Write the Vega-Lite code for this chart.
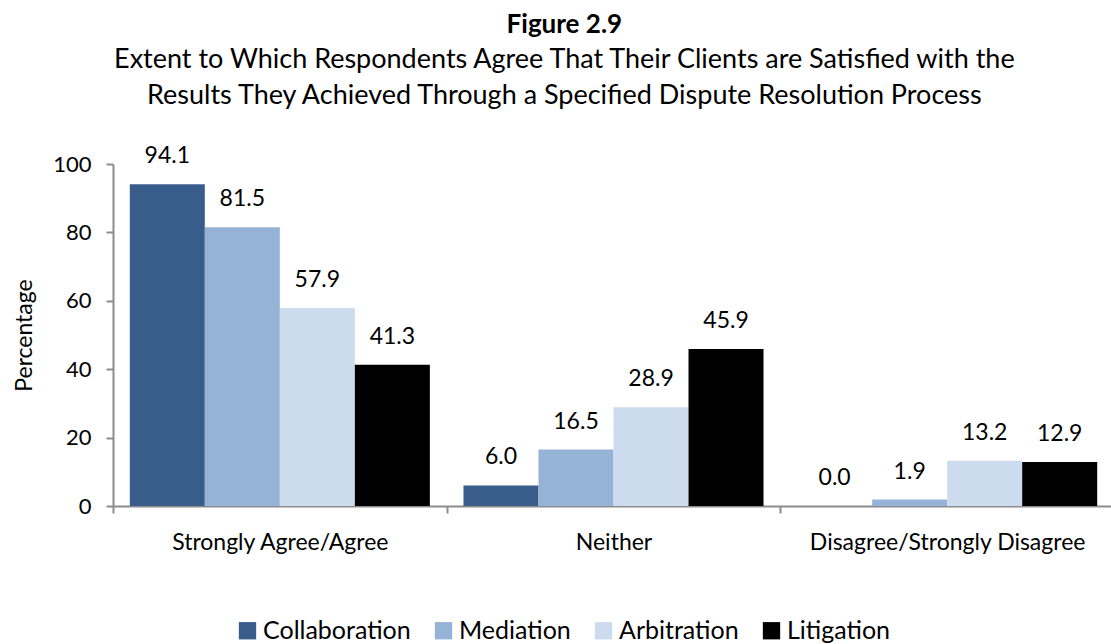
{
  "$schema": "https://vega.github.io/schema/vega-lite/v6.json",
  "width": 1001,
  "height": 342,
  "padding": {"left": 13, "top": 12, "right": 0, "bottom": 0},
  "background": "white",
  "config": {
    "font": "Lato",
    "view": {"stroke": null}
  },
  "title": {
    "text": "Figure 2.9",
    "subtitle": ["Extent to Which Respondents Agree That Their Clients are Satisfied with the", "Results They Achieved Through a Specified Dispute Resolution Process"],
    "anchor": "middle",
    "frame": "bounds",
    "font": "Lato",
    "fontSize": 26,
    "fontWeight": "bold",
    "color": "black",
    "subtitleFont": "Lato",
    "subtitleFontSize": 27,
    "subtitleColor": "black",
    "subtitleLineHeight": 36,
    "subtitlePadding": 9,
    "offset": 36
  },
  "data": {
    "values": [
      {"response": "Strongly Agree/Agree", "process": "Collaboration", "pct": 94.1},
      {"response": "Strongly Agree/Agree", "process": "Mediation", "pct": 81.5},
      {"response": "Strongly Agree/Agree", "process": "Arbitration", "pct": 57.9},
      {"response": "Strongly Agree/Agree", "process": "Litigation", "pct": 41.3},
      {"response": "Neither", "process": "Collaboration", "pct": 6.0},
      {"response": "Neither", "process": "Mediation", "pct": 16.5},
      {"response": "Neither", "process": "Arbitration", "pct": 28.9},
      {"response": "Neither", "process": "Litigation", "pct": 45.9},
      {"response": "Disagree/Strongly Disagree", "process": "Collaboration", "pct": 0.0},
      {"response": "Disagree/Strongly Disagree", "process": "Mediation", "pct": 1.9},
      {"response": "Disagree/Strongly Disagree", "process": "Arbitration", "pct": 13.2},
      {"response": "Disagree/Strongly Disagree", "process": "Litigation", "pct": 12.9}
    ]
  },
  "encoding": {
    "x": {
      "field": "response",
      "type": "nominal",
      "sort": ["Strongly Agree/Agree", "Neither", "Disagree/Strongly Disagree"],
      "scale": {"paddingInner": 0, "paddingOuter": 0},
      "axis": {
        "title": null,
        "labelAngle": 0,
        "labelFont": "Lato",
        "labelFontSize": 23,
        "labelColor": "black",
        "labelPadding": 18,
        "labelLimit": 400,
        "tickBand": "extent",
        "tickSize": 7,
        "tickWidth": 2,
        "tickColor": "#8c8c8c",
        "domainColor": "#8c8c8c",
        "domainWidth": 2
      }
    },
    "xOffset": {
      "field": "process",
      "type": "nominal",
      "sort": ["Collaboration", "Mediation", "Arbitration", "Litigation"],
      "scale": {"paddingInner": 0, "paddingOuter": 0.224, "align": 0.5}
    },
    "y": {
      "field": "pct",
      "type": "quantitative",
      "scale": {"domain": [0, 100]},
      "axis": {
        "title": "Percentage",
        "titleFont": "Lato",
        "titleFontSize": 23,
        "titleFontWeight": "normal",
        "titleColor": "black",
        "titlePadding": 16,
        "values": [0, 20, 40, 60, 80, 100],
        "grid": false,
        "labelFont": "Lato",
        "labelFontSize": 22,
        "labelColor": "black",
        "labelPadding": 15,
        "tickSize": 7,
        "tickWidth": 2,
        "tickColor": "#8c8c8c",
        "domainColor": "#8c8c8c",
        "domainWidth": 2
      }
    }
  },
  "layer": [
    {
      "mark": {"type": "bar"},
      "encoding": {
        "color": {
          "field": "process",
          "type": "nominal",
          "sort": ["Collaboration", "Mediation", "Arbitration", "Litigation"],
          "scale": {
            "domain": ["Collaboration", "Mediation", "Arbitration", "Litigation"],
            "range": ["#385d8a", "#95b3d7", "#cddbef", "#000000"]
          },
          "legend": {
            "title": null,
            "orient": "none",
            "legendX": 122,
            "legendY": 454,
            "direction": "horizontal",
            "symbolType": "square",
            "symbolSize": 300,
            "symbolStrokeWidth": 0,
            "labelFont": "Lato",
            "labelFontSize": 25,
            "labelColor": "black",
            "columnPadding": 20,
            "labelOffset": 3
          }
        }
      }
    },
    {
      "mark": {"type": "text", "baseline": "alphabetic", "dy": -21, "fontSize": 23, "font": "Lato", "color": "black"},
      "encoding": {
        "text": {"field": "pct", "type": "quantitative", "format": ".1f"}
      }
    }
  ]
}
